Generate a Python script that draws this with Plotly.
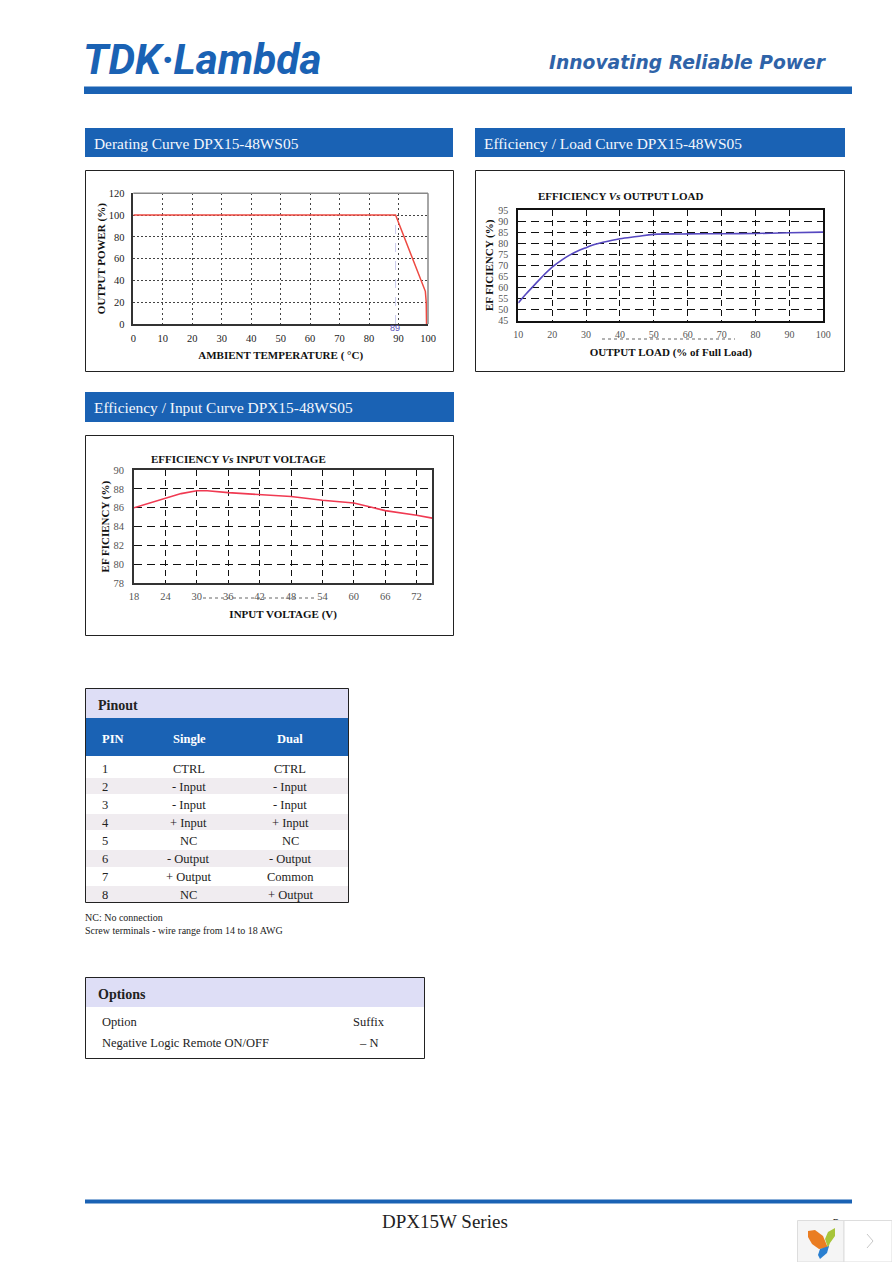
import plotly.graph_objects as go

# ---- chart data ----
derate_temp = [0, 89, 99.1, 99.4, 99.5]
derate_power = [100, 100, 30, 20, 0]
marker_temp = [89, 89]
marker_power = [0, 100]
derate_xticks = [0, 10, 20, 30, 40, 50, 60, 70, 80, 90, 100]
derate_yticks = [0, 20, 40, 60, 80, 100, 120]

load_pct = [10, 12, 15, 17, 20, 23, 25, 28, 30, 33, 35, 40, 45, 50, 60, 70, 80, 90, 100]
load_eff = [53, 56.6, 61.5, 64.8, 69.2, 72.6, 74.5, 76.8, 78, 79.6, 80.4, 82, 83, 84, 84.2, 84.3, 84.4, 84.7, 85]
load_xticks = [10, 20, 30, 40, 50, 60, 70, 80, 90, 100]
load_yticks = [45, 50, 55, 60, 65, 70, 75, 80, 85, 90, 95]

vin = [18, 24, 27, 30, 32, 36, 42, 48, 54, 60, 63, 66, 72, 75]
vin_eff = [86, 87, 87.5, 87.8, 87.8, 87.6, 87.4, 87.2, 86.8, 86.5, 86.1, 85.7, 85.2, 84.9]
vin_xticks = [18, 24, 30, 36, 42, 48, 54, 60, 66, 72]
vin_yticks = [78, 80, 82, 84, 86, 88, 90]

# ---- table data ----
pin_numbers = ["1", "2", "3", "4", "5", "6", "7", "8"]
pin_single = ["CTRL", "- Input", "- Input", "+ Input", "NC", "- Output", "+ Output", "NC"]
pin_dual = ["CTRL", "- Input", "- Input", "+ Input", "NC", "- Output", "Common", "+ Output"]

W, H = 892, 1262
BLUE = "#1a62b4"
LAV = "#dedef6"
BAND = "#f0ecf0"
SERIF = "Liberation Serif"


def px(x):
    return x / W


def py(y):
    return 1 - y / H


shapes = []
annots = []


def rect(x0, y0, x1, y1, fill=None, line=None, lw=1, layer="below"):
    shapes.append(dict(type="rect", xref="paper", yref="paper", x0=px(x0), x1=px(x1), y0=py(y0), y1=py(y1),
                       fillcolor=fill or "rgba(0,0,0,0)", line=dict(color=line or "rgba(0,0,0,0)", width=lw if line else 0),
                       layer=layer))


def hline(x0, y0, x1, y1, color, lw=1, dash="solid", layer="above"):
    shapes.append(dict(type="line", xref="paper", yref="paper", x0=px(x0), x1=px(x1), y0=py(y0), y1=py(y1),
                       line=dict(color=color, width=lw, dash=dash), layer=layer))


def text(x, y, s, size=12, color="#222", family=SERIF, anchor="center", angle=0):
    annots.append(dict(xref="paper", yref="paper", x=px(x), y=py(y), text=s, showarrow=False, xanchor=anchor,
                       yanchor="middle", textangle=angle, font=dict(family=family, size=size, color=color),
                       borderpad=0, borderwidth=0))


def path(points, fill):
    d = "M " + " ".join(
        (f"{c} " if isinstance(c, str) else f"{px(c[0]):.5f},{py(c[1]):.5f} ") for c in points) + "Z"
    shapes.append(dict(type="path", xref="paper", yref="paper", path=d, fillcolor=fill, line=dict(width=0), layer="above"))


# ---- page furniture ----
text(83, 59, "<b><i>TDK·Lambda</i></b>", 42.3, BLUE, "Roboto", "left")
text(549, 62, "<b><i>Innovating Reliable Power</i></b>", 18.7, "#2f63a8", "DejaVu Sans", "left")
rect(84, 86.5, 852, 94, BLUE)
rect(85, 1199.5, 852, 1203.5, BLUE)
text(445, 1221, "DPX15W Series", 19, "#222")

for (x0, y0, x1, y1, label) in [
    (85, 128, 453, 157, "Derating Curve DPX15-48WS05"),
    (475, 128, 845, 157, "Efficiency / Load Curve DPX15-48WS05"),
    (85, 392, 454, 422, "Efficiency / Input Curve DPX15-48WS05"),
]:
    rect(x0, y0, x1, y1, BLUE)
    text(x0 + 9, (y0 + y1) / 2 + 0.5, label, 15.4, "#f4f7fc", SERIF, "left")

rect(85.5, 170.5, 453.5, 371.5, None, "#222")
rect(475.5, 170.5, 844.5, 371.5, None, "#222")
rect(85.5, 435.5, 453.5, 635.5, None, "#222")

# chart inner titles
text(620, 196, "<b>EFFICIENCY <i>Vs</i> OUTPUT LOAD</b>", 11, "#111")
text(238, 459, "<b>EFFICIENCY <i>Vs</i> INPUT VOLTAGE</b>", 11, "#111")

# scanning artefacts under the tick labels
hline(602, 339, 735, 339, "#666", 1, "dot")
hline(203, 598, 315, 598, "#666", 1, "dot")

# chart 1 frame: lighter top and right
hline(133.3, 193.3, 428, 193.3, "#888", 1.5)
hline(428, 193.3, 428, 324, "#888", 1.5)

# ---- pinout table ----
rect(85, 718, 348.5, 756, BLUE)
rect(85, 688, 348.5, 718, LAV)
for y0, y1 in [(778, 794), (814, 830), (850, 867), (886, 902)]:
    rect(85, y0, 348.5, y1, BAND)
rect(85.5, 688.5, 348.5, 902.5, None, "#222")
text(98, 705, "<b>Pinout</b>", 14, "#222", SERIF, "left")
text(113, 739, "<b>PIN</b>", 12.5, "white")
text(189, 739, "<b>Single</b>", 12.5, "white")
text(290, 739, "<b>Dual</b>", 12.5, "white")
row_y = [768.5, 787, 805, 823, 841, 859, 877, 895]
for yy, a, b, c in zip(row_y, pin_numbers, pin_single, pin_dual):
    text(105, yy, a, 12.5)
    text(188.5, yy, b, 12.5)
    text(290, yy, c, 12.5)
text(85, 917.5, "NC: No connection", 10, "#222", SERIF, "left")
text(85, 930.5, "Screw terminals - wire range from 14 to 18 AWG", 10, "#222", SERIF, "left")

# ---- options table ----
rect(85, 977, 424.5, 1007, LAV)
rect(85.5, 977.5, 424.5, 1058.5, None, "#222")
text(98, 994, "<b>Options</b>", 14, "#222", SERIF, "left")
text(102, 1022, "Option", 12.5, "#222", SERIF, "left")
text(368.5, 1022, "Suffix", 12.5)
text(102, 1043, "Negative Logic Remote ON/OFF", 12.5, "#222", SERIF, "left")
text(368, 1043, "– N", 12.5)

# ---- page number, partly covered by the corner widget ----
shapes.append(dict(type="rect", xref="paper", yref="paper", x0=px(826), x1=px(846), y0=py(1232), y1=py(1212),
                   fillcolor="rgba(0,0,0,0)", line=dict(width=0), layer="above",
                   label=dict(text="3", textposition="middle center", font=dict(family=SERIF, size=14, color="#222"))))

# ---- corner widget ----
rect(797.5, 1220.5, 844, 1262, "#f5f5f5", "#dddddd", 1, "above")
rect(844, 1220.5, 892, 1262, "white", "#dddddd", 1, "above")
hline(867, 1234, 873, 1241, "#c8c8c8", 1)
hline(873, 1241, 867, 1248, "#c8c8c8", 1)
path(["", (808, 1231), "L", (815, 1230), "L", (823, 1236), "L", (828, 1248), "L", (819, 1249), "L", (812, 1244), "L", (808, 1237)], "#ea7d22")
path(["", (835, 1228), "L", (835, 1236), "L", (830, 1243), "L", (828, 1248), "L", (825, 1239), "L", (828, 1232)], "#a7c53a")
path(["", (820, 1249), "L", (829, 1246), "L", (827, 1253), "L", (820, 1259), "L", (818, 1255)], "#2a7fd0")

# ---- figure ----
fig = go.Figure()
fig.add_trace(go.Scatter(x=marker_temp, y=marker_power, mode="lines", xaxis="x", yaxis="y", showlegend=False,
                         line=dict(color="#c9c9ec", width=1, dash="dash")))
fig.add_trace(go.Scatter(x=derate_temp, y=derate_power, mode="lines", xaxis="x", yaxis="y", showlegend=False,
                         line=dict(color="#ee4a42", width=1.5)))
fig.add_trace(go.Scatter(x=load_pct, y=load_eff, mode="lines", xaxis="x2", yaxis="y2", showlegend=False,
                         line=dict(color="#5648c0", width=1.6, shape="spline")))
fig.add_trace(go.Scatter(x=vin, y=vin_eff, mode="lines", xaxis="x3", yaxis="y3", showlegend=False,
                         line=dict(color="#f03a52", width=1.6)))

annots.append(dict(xref="x", yref="y", x=89, y=0, yanchor="top", yshift=3, xshift=-1, text="89", showarrow=False,
                   font=dict(family="Liberation Sans", size=9, color="#5a50b8")))


def axis(rng, ticks, title, standoff, grid, dash, gw, line, lw, mirror, tickcolor, tstand, tsize=10.5):
    return dict(range=rng, tickvals=ticks, ticks="", showgrid=True, gridcolor=grid, automargin=False,
                griddash=dash, gridwidth=gw, zeroline=False, showline=True, linecolor=line, linewidth=lw, mirror=mirror,
                tickfont=dict(family=SERIF, size=tsize, color=tickcolor), ticklabelstandoff=tstand,
                title=dict(text=title, standoff=standoff, font=dict(family=SERIF, size=11, color="#111")))


fig.update_layout(
    width=W, height=H, margin=dict(l=0, r=0, t=0, b=0), autosize=False,
    paper_bgcolor="white", plot_bgcolor="white", showlegend=False, hovermode=False,
    shapes=shapes, annotations=annots,
    xaxis=dict(axis([0, 100], derate_xticks, "<b>AMBIENT TEMPERATURE ( °C)</b>", 8,
                    "#444", "2px,3px", 1, "#333", 1.5, False, "#222", 4),
               domain=[px(133.3), px(428)], anchor="y"),
    yaxis=dict(axis([0, 120], derate_yticks, "<b>OUTPUT POWER (%)</b>", 1,
                    "#444", "2px,2px", 1, "#333", 1.5, False, "#222", 5),
               domain=[py(324), py(193.3)], anchor="x"),
    xaxis2=dict(axis([10, 100], load_xticks, "<b>OUTPUT LOAD (% of Full Load)</b>", 10,
                     "#111", "6px,4px", 1.4, "#111", 2, True, "#555", 3, 10),
                domain=[px(518.3), px(823.3)], anchor="y2"),
    yaxis2=dict(axis([45, 95], load_yticks, "<b>EF FICIENCY (%)</b>", 2,
                     "#111", "8px,5px", 1.4, "#111", 2, True, "#555", 6, 10),
                domain=[py(320.7), py(210)], anchor="x2"),
    xaxis3=dict(axis([18, 75], vin_xticks, "<b>INPUT VOLTAGE (V)</b>", 9,
                     "#111", "6px,4px", 1.4, "#333", 2, True, "#555", 2),
                domain=[px(134), px(432.3)], anchor="y3"),
    yaxis3=dict(axis([78, 90], vin_yticks, "<b>EF FICIENCY (%)</b>", 2,
                     "#111", "8px,5px", 1.4, "#333", 2, True, "#555", 6),
                domain=[py(583.3), py(470)], anchor="x3"),
)

fig.write_html("out.html", post_script="document.body.style.margin='0';document.body.style.overflow='hidden';",
               config=dict(displayModeBar=False))
